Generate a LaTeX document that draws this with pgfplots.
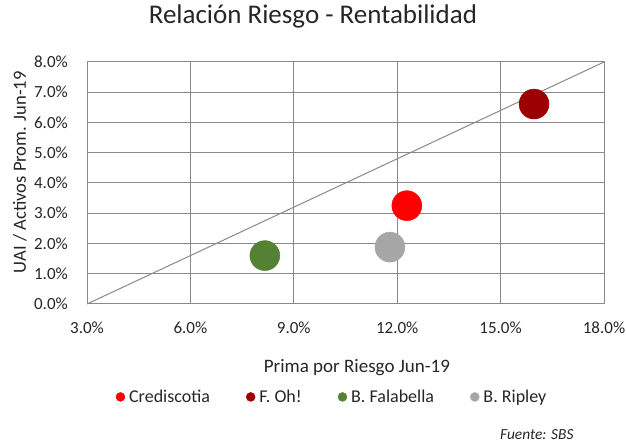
\documentclass[border=0pt]{standalone}
\usepackage{fontspec}
\setmainfont{Carlito}
\usepackage{pgfplots}
\pgfplotsset{compat=1.18}

\definecolor{cCredi}{HTML}{FF0000}
\definecolor{cFoh}{HTML}{9C0000}
\definecolor{cFala}{HTML}{548235}
\definecolor{cRipley}{HTML}{A6A6A6}
\definecolor{cGrid}{HTML}{898989}

\begin{document}
\begin{tikzpicture}[x=1pt,y=1pt]
\useasboundingbox (0,0) rectangle (626,443);
\begin{axis}[
    at={(87pt,139pt)}, anchor=south west,
    scale only axis,
    width=517pt, height=242pt,
    xmin=3, xmax=18, ymin=0, ymax=8,
    xtick={3,6,9,12,15,18},
    ytick={0,1,2,3,4,5,6,7,8},
    xticklabel={\pgfmathprintnumber[fixed,fixed zerofill,precision=1]{\tick}\%},
    yticklabel={\pgfmathprintnumber[fixed,fixed zerofill,precision=1]{\tick}\%},
    /pgf/number format/assume math mode=true,
    tick label style={font=\fontsize{17}{18}\selectfont, text=black!85},
    xticklabel style={anchor=north, inner sep=0pt, yshift=-18pt},
    yticklabel style={anchor=east, inner sep=0pt, xshift=-19pt},
    major tick length=0pt,
    grid=major,
    grid style={cGrid, line width=1pt},
    axis line style={cGrid, line width=1pt},
    clip=false,
    title={Relación Riesgo - Rentabilidad},
    title style={font=\fontsize{27}{28}\selectfont, at={(rel axis cs:0.437,1.165)}, anchor=center, text=black!85},
    xlabel={Prima por Riesgo Jun-19},
    xlabel style={font=\fontsize{19}{20}\selectfont, at={(rel axis cs:0.522,-0.264)}, anchor=center, text=black!85},
    ylabel={UAI / Activos Prom. Jun-19},
    ylabel style={font=\fontsize{18.6}{20}\selectfont, at={(rel axis cs:-0.13,0.545)}, anchor=center, rotate=0, text=black!85},
    legend columns=4,
    legend style={draw=none, fill=none, font=\fontsize{18}{19}\selectfont,
        at={(rel axis cs:0.473,-0.384)}, anchor=center,
        /tikz/every odd column/.append style={column sep=3pt},
        /tikz/every even column/.append style={column sep=35pt},
        nodes={inner sep=1pt, text=black!85}},
    legend image code/.code={\fill[#1] (0pt,0pt) circle (4.5pt);},
]
\addplot[forget plot, draw=cGrid, line width=1pt] coordinates {(3,0) (18,8)};
\addplot[only marks, mark=*, mark size=15pt, color=cCredi] coordinates {(12.28,3.25)};
\addlegendentry{Crediscotia}
\addplot[only marks, mark=*, mark size=15pt, color=cFoh] coordinates {(15.97,6.61)};
\addlegendentry{F. Oh!}
\addplot[only marks, mark=*, mark size=15pt, color=cFala] coordinates {(8.16,1.6)};
\addlegendentry{B. Falabella}
\addplot[only marks, mark=*, mark size=15pt, color=cRipley] coordinates {(11.79,1.88)};
\addlegendentry{B. Ripley}
\end{axis}
\node[anchor=east, font=\fontsize{15.4}{16}\selectfont\itshape, text=black!85] at (577,8) {Fuente: SBS};
\end{tikzpicture}
\end{document}
